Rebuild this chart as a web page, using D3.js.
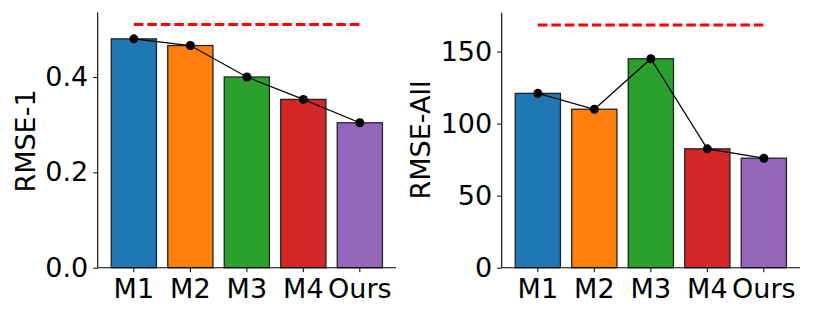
<!DOCTYPE html>
<html>
<head>
<meta charset="utf-8">
<script src="https://cdn.jsdelivr.net/npm/d3@7"></script>
<style>
  body { margin: 0; background: #fff; }
  svg { display: block; font-family: "DejaVu Sans", sans-serif; }
</style>
</head>
<body>
<svg id="chart" width="814" height="317"></svg>
<script>
// models on the x axis
var models = ["M1", "M2", "M3", "M4", "Ours"];
var colors = ["#1f77b4", "#ff7f0e", "#2ca02c", "#d62728", "#9467bd"];

// left panel: RMSE-1
var rmse1 = [0.480, 0.466, 0.400, 0.353, 0.304];
var rmse1Ref = 0.51;
var rmse1Ticks = [0.0, 0.2, 0.4];

// right panel: RMSE-All
var rmseAll = [121, 110, 145, 82.5, 76];
var rmseAllRef = 168.5;
var rmseAllTicks = [0, 50, 100, 150];

var svg = d3.select("#chart");

function drawPanel(opt) {
    var x = d3.scaleBand()
        .domain(models)
        .range([opt.left, opt.right])
        .paddingInner(0.2)
        .paddingOuter(0.24);

    var y = d3.scaleLinear()
        .domain([0, opt.ref * 1.05])
        .range([opt.bottom, opt.top]);

    var g = svg.append("g");

    // bars
    g.selectAll("rect.bar")
        .data(opt.values)
        .enter()
        .append("rect")
        .attr("class", "bar")
        .attr("x", (d, i) => x(models[i]))
        .attr("y", d => y(d))
        .attr("width", x.bandwidth())
        .attr("height", d => y(0) - y(d))
        .attr("fill", (d, i) => colors[i])
        .attr("stroke", "#222")
        .attr("stroke-width", 1.3);

    var cx = (d, i) => x(models[i]) + x.bandwidth() / 2;

    // connecting line + dots
    var line = d3.line().x(cx).y(d => y(d));
    g.append("path")
        .datum(opt.values)
        .attr("d", line)
        .attr("fill", "none")
        .attr("stroke", "#000")
        .attr("stroke-width", 1.2);

    g.selectAll("circle")
        .data(opt.values)
        .enter()
        .append("circle")
        .attr("cx", cx)
        .attr("cy", d => y(d))
        .attr("r", 4.5)
        .attr("fill", "#000");

    // reference dashed line
    g.append("line")
        .attr("x1", x(models[0]) + x.bandwidth() / 2)
        .attr("x2", x(models[models.length - 1]) + x.bandwidth() / 2)
        .attr("y1", y(opt.ref))
        .attr("y2", y(opt.ref))
        .attr("stroke", "#ff0000")
        .attr("stroke-width", 3)
        .attr("stroke-dasharray", "9.5,4");

    // axes
    var yAxis = d3.axisLeft(y)
        .tickValues(opt.ticks)
        .tickFormat(opt.format)
        .tickSize(4.5)
        .tickPadding(5);
    var gy = g.append("g")
        .attr("transform", "translate(" + opt.left + ",0)")
        .call(yAxis);
    gy.select(".domain")
        .attr("d", "M0," + opt.top + "V" + opt.bottom)
        .attr("stroke", "#000")
        .attr("stroke-width", 1.1);

    var xAxis = d3.axisBottom(x).tickSize(4.5);
    var gx = g.append("g")
        .attr("transform", "translate(0," + opt.bottom + ")")
        .call(xAxis);
    gx.select(".domain")
        .attr("d", "M" + opt.left + ",0H" + opt.right)
        .attr("stroke", "#000")
        .attr("stroke-width", 1.1);
    gx.selectAll(".tick text")
        .attr("y", 30.5)
        .attr("dy", null);

    g.selectAll(".tick text")
        .attr("font-family", "DejaVu Sans")
        .attr("font-size", 27)
        .attr("fill", "#000");
    g.selectAll(".tick line").attr("stroke", "#000").attr("stroke-width", 1);

    // y label
    g.append("text")
        .attr("transform", "translate(" + opt.labelX + "," + opt.labelY + ") rotate(-90)")
        .attr("text-anchor", "middle")
        .attr("font-size", 27)
        .attr("fill", "#000")
        .text(opt.label);
}

drawPanel({
    left: 97.7, right: 396, top: 12.4, bottom: 267.7,
    values: rmse1, ref: rmse1Ref, ticks: rmse1Ticks,
    format: d3.format(".1f"), label: "RMSE-1",
    labelX: 35, labelY: 141
});

drawPanel({
    left: 501.7, right: 800, top: 12.8, bottom: 267.7,
    values: rmseAll, ref: rmseAllRef, ticks: rmseAllTicks,
    format: d3.format("d"), label: "RMSE-All",
    labelX: 430, labelY: 140
});
</script>
</body>
</html>
